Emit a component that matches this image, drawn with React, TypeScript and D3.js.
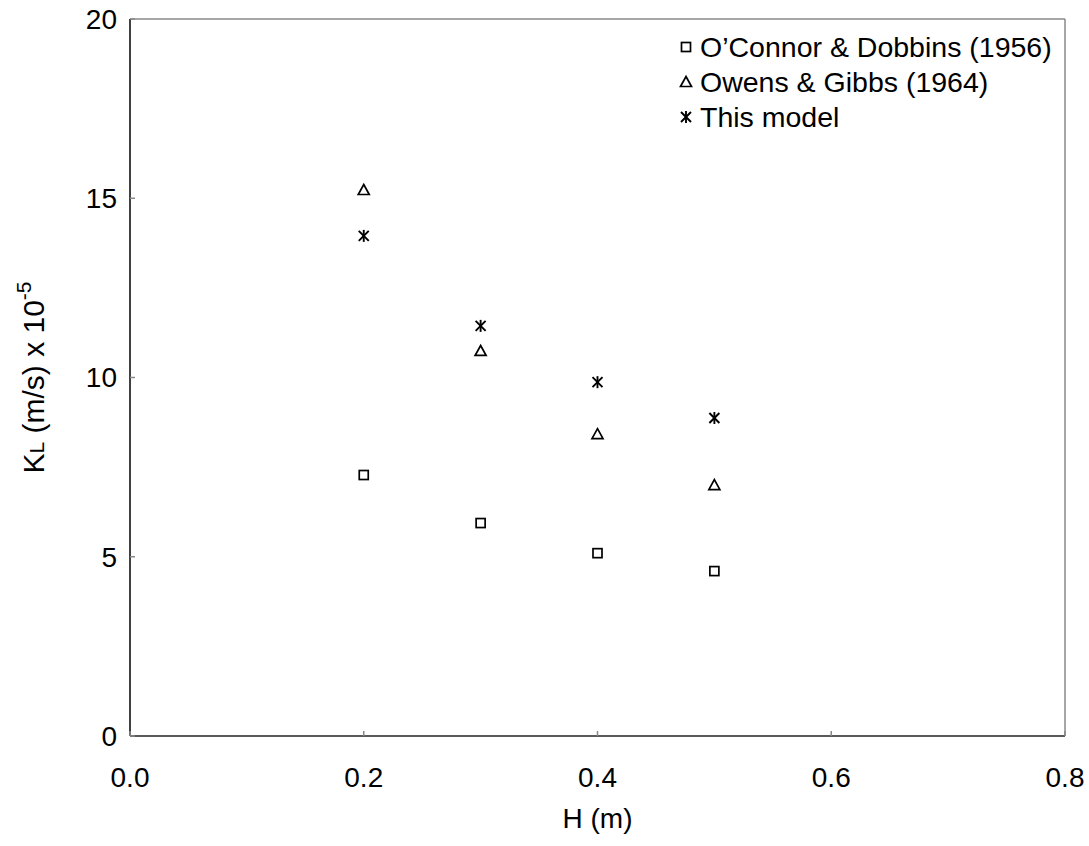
import React from "react";
import * as d3 from "d3";

const hValues = [0.2, 0.3, 0.4, 0.5];
const oconnor = [7.28, 5.94, 5.1, 4.6];
const owens = [15.23, 10.74, 8.42, 7.0];
const model = [13.95, 11.44, 9.87, 8.87];
const xTicks = [0.0, 0.2, 0.4, 0.6, 0.8];
const yTicks = [0, 5, 10, 15, 20];
const seriesNames = ["O\u2019Connor & Dobbins (1956)", "Owens & Gibbs (1964)", "This model"];

const W = 1089, H = 846;
const L = 130, R = 1065, T = 19, B = 736;
const FONT = "Liberation Sans, Arial, sans-serif";
const FS = 28;

function Marker({ type, x, y }: { type: string; x: number; y: number }) {
  if (type === "square") {
    return <rect x={x - 4.5} y={y - 4.5} width={9} height={9} fill="none" stroke="#000" strokeWidth={1.7} />;
  }
  if (type === "triangle") {
    return <path d={`M${x},${y - 5.5}L${x + 5.5},${y + 4.5}L${x - 5.5},${y + 4.5}Z`} fill="none" stroke="#000" strokeWidth={1.7} />;
  }
  const s = 5;
  return (
    <g stroke="#000" strokeWidth={1.9}>
      <line x1={x - s} y1={y - s} x2={x + s} y2={y + s} />
      <line x1={x - s} y1={y + s} x2={x + s} y2={y - s} />
      <line x1={x} y1={y - s - 1} x2={x} y2={y + s + 1} />
    </g>
  );
}

export default function App() {
  const x = d3.scaleLinear().domain([0, 0.8]).range([L, R]);
  const y = d3.scaleLinear().domain([0, 20]).range([B, T]);
  const series = [
    { name: seriesNames[0], values: oconnor, type: "square" },
    { name: seriesNames[1], values: owens, type: "triangle" },
    { name: seriesNames[2], values: model, type: "star" },
  ];
  return (
    <svg width={W} height={H} style={{ position: "absolute", left: 0, top: 0, background: "#fff" }} fontFamily={FONT}>
      <rect x={0} y={0} width={W} height={H} fill="#fff" />
      <line x1={L} y1={T} x2={R} y2={T} stroke="#888" strokeWidth={1.5} />
      <line x1={R} y1={T} x2={R} y2={B} stroke="#888" strokeWidth={1.5} />
      <line x1={L} y1={T} x2={L} y2={B} stroke="#000" strokeWidth={1.5} />
      <line x1={L} y1={B} x2={R} y2={B} stroke="#222" strokeWidth={1.5} />
      {yTicks.map((t) => (
        <g key={"y" + t}>
          <line x1={L} x2={L + 5} y1={y(t)} y2={y(t)} stroke="#888" strokeWidth={1.5} />
          <text x={117} y={y(t)} dy="0.35em" textAnchor="end" fontSize={FS} fill="#000">{t}</text>
        </g>
      ))}
      {xTicks.map((t) => (
        <g key={"x" + t}>
          <line x1={x(t)} x2={x(t)} y1={B} y2={B - 5} stroke="#888" strokeWidth={1.5} />
          <text x={x(t)} y={787} textAnchor="middle" fontSize={FS} fill="#000">{t.toFixed(1)}</text>
        </g>
      ))}
      <text x={(L + R) / 2} y={828} textAnchor="middle" fontSize={FS}>H (m)</text>
      <text transform={`translate(44,${(T + B) / 2}) rotate(-90)`} textAnchor="middle" fontSize={30}>
        K<tspan fontSize={21}>L</tspan> (m/s) x 10<tspan fontSize={21} dy={-13}>-5</tspan>
      </text>
      {series.map((s) =>
        s.values.map((v, i) => <Marker key={s.type + i} type={s.type} x={x(hValues[i])} y={y(v)} />)
      )}
      {series.map((s, i) => (
        <g key={"leg" + i}>
          <Marker type={s.type} x={686} y={47 + i * 35} />
          <text x={700} y={47 + i * 35} dy="0.36em" fontSize={28.5}>{s.name}</text>
        </g>
      ))}
    </svg>
  );
}
